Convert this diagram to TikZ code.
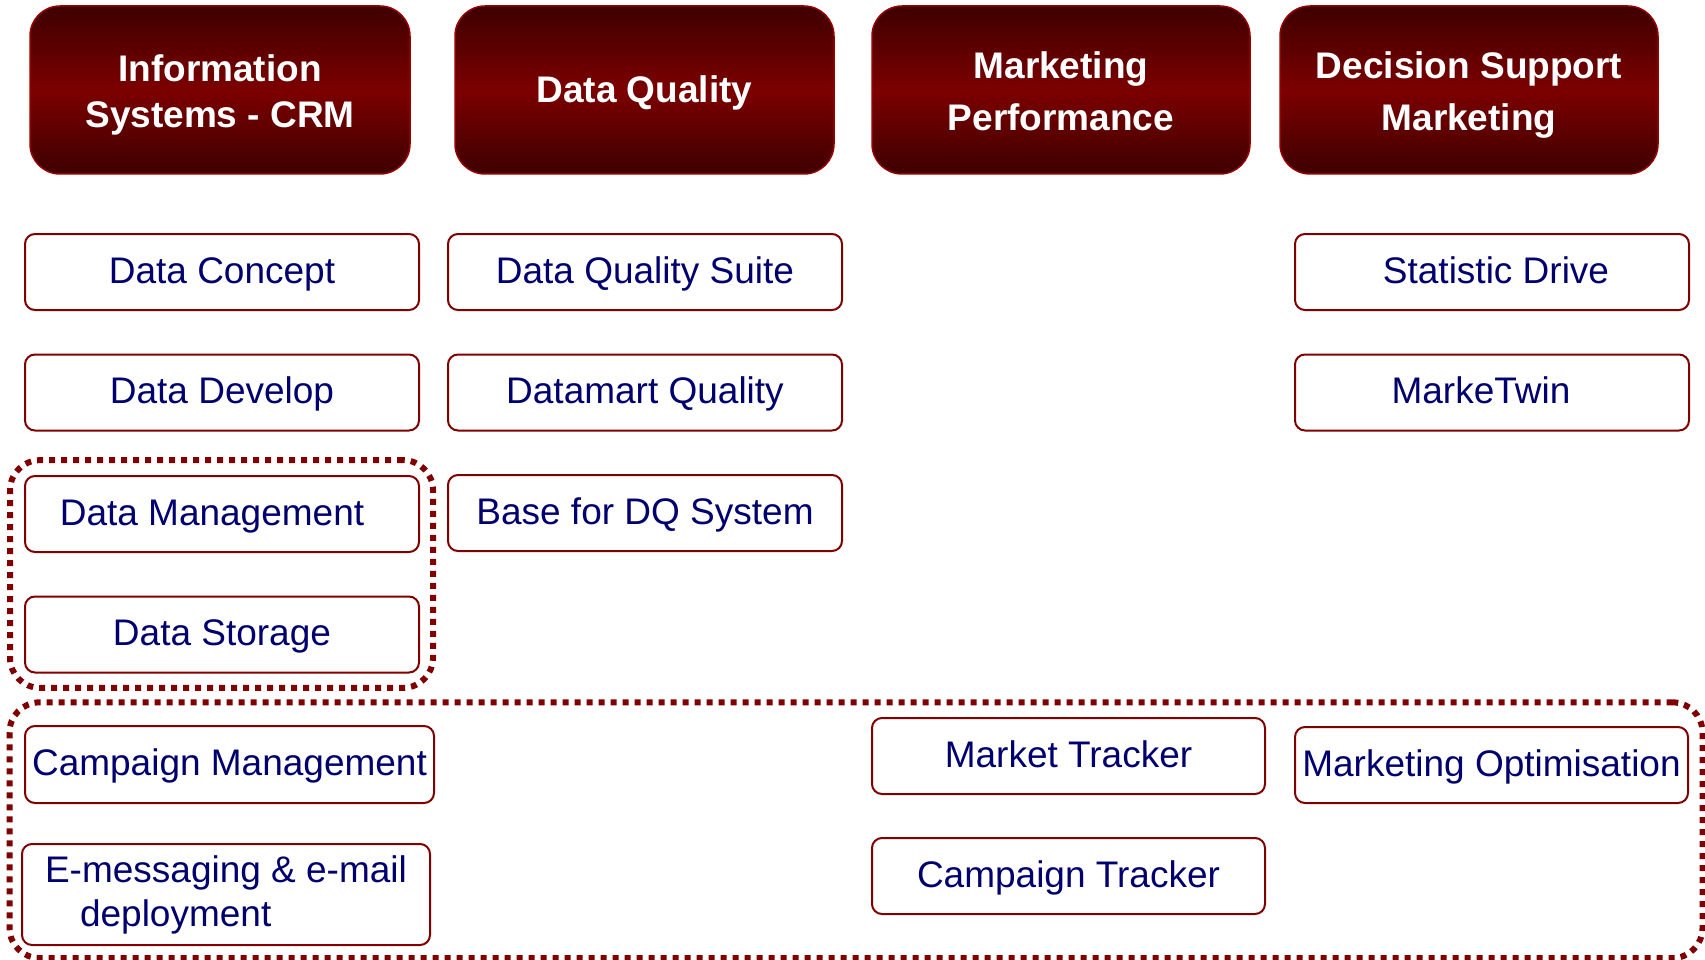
\documentclass[tikz,border=0pt]{standalone}
\usepackage{fontspec}
\setmainfont{Liberation Sans}
\definecolor{navy}{RGB}{0,0,110}
\definecolor{dred}{RGB}{128,0,0}
\definecolor{hdark}{RGB}{62,0,0}
\definecolor{hmid}{RGB}{124,0,0}
\definecolor{hborder}{RGB}{150,0,0}
\newcommand\mlines[2]{\vtop{\baselineskip=#1\relax\halign{\hfil##\hfil\cr#2\crcr}}}
\newcommand\llines[2]{\vtop{\baselineskip=#1\relax\halign{##\hfil\cr#2\crcr}}}
\tikzset{
  hdr/.style={rounded corners=30pt, draw=hborder, line width=1.5pt,
    top color=hdark, bottom color=hdark, middle color=hmid,
    text=white, minimum height=168pt, inner sep=0pt,
    font=\fontsize{37}{46}\selectfont\bfseries},
  hone/.style={text height=33.4pt, text depth=8pt},
  htwo/.style={text height=8pt, text depth=31.4pt},
  itembox/.style={draw=dred, line width=2pt, rounded corners=10pt, fill=white,
    text=navy, font=\fontsize{37}{44}\selectfont, minimum height=76pt,
    minimum width=394pt, inner sep=0pt, text height=30pt, text depth=8pt},
  dotbox/.style={draw=dred, line width=6pt, dash pattern=on 6pt off 6pt,
    rounded corners=30pt, inner sep=0pt}
}
\begin{document}
\begin{tikzpicture}[x=1pt,y=-1pt]
\useasboundingbox (0,0) rectangle (1705,960);
% group frames
\node[dotbox, minimum width=423pt, minimum height=227.7pt] (g1) at (221.5,574) {};
\node[dotbox, minimum width=1693pt, minimum height=255.7pt] (g2) at (856,830.2) {};
% headers
\node[hdr, minimum width=380pt, text height=10pt, text depth=26.6pt] (h1) at (220,90)
  {\mlines{46pt}{Information\cr Systems - CRM}};
\node[hdr, hone, minimum width=379pt] (h2) at (644.5,90) {Data Quality};
\node[hdr, htwo, minimum width=378pt] (h3) at (1061,90)
  {\mlines{52.4pt}{Marketing\cr Performance}};
\node[hdr, htwo, minimum width=378pt] (h4) at (1469,90)
  {\mlines{52.4pt}{Decision Support\cr Marketing}};
% column 1
\node[itembox] (a1) at (222,272) {Data Concept};
\node[itembox] (a2) at (222,392.5) {Data Develop};
\node[itembox] (a3) at (222,514) {Data Management\hspace*{20pt}};
\node[itembox] (a4) at (222,634.5) {Data Storage};
\node[itembox, minimum width=409pt, minimum height=77pt] (a5) at (229.5,764.5) {Campaign Management};
\node[itembox, minimum width=408pt, minimum height=101pt, text height=10pt, text depth=33.6pt] (a6) at (226,894.5)
  {\llines{44pt}{E-messaging \& e-mail\cr\hspace*{35pt}deployment}};
% column 2
\node[itembox] (b1) at (645,272) {Data Quality Suite};
\node[itembox] (b2) at (645,392.5) {Datamart Quality};
\node[itembox] (b3) at (645,513) {Base for DQ System};
% column 3
\node[itembox, minimum width=393pt] (c1) at (1068.5,756) {Market Tracker};
\node[itembox, minimum width=393pt] (c2) at (1068.5,876) {Campaign Tracker};
% column 4
\node[itembox] (d1) at (1492,272) {Statistic Drive\hspace*{-8pt}};
\node[itembox] (d2) at (1492,392.5) {MarkeTwin\hspace*{22pt}};
\node[itembox, minimum width=393pt] (d3) at (1491.5,765) {Marketing Optimisation};
\end{tikzpicture}
\end{document}
